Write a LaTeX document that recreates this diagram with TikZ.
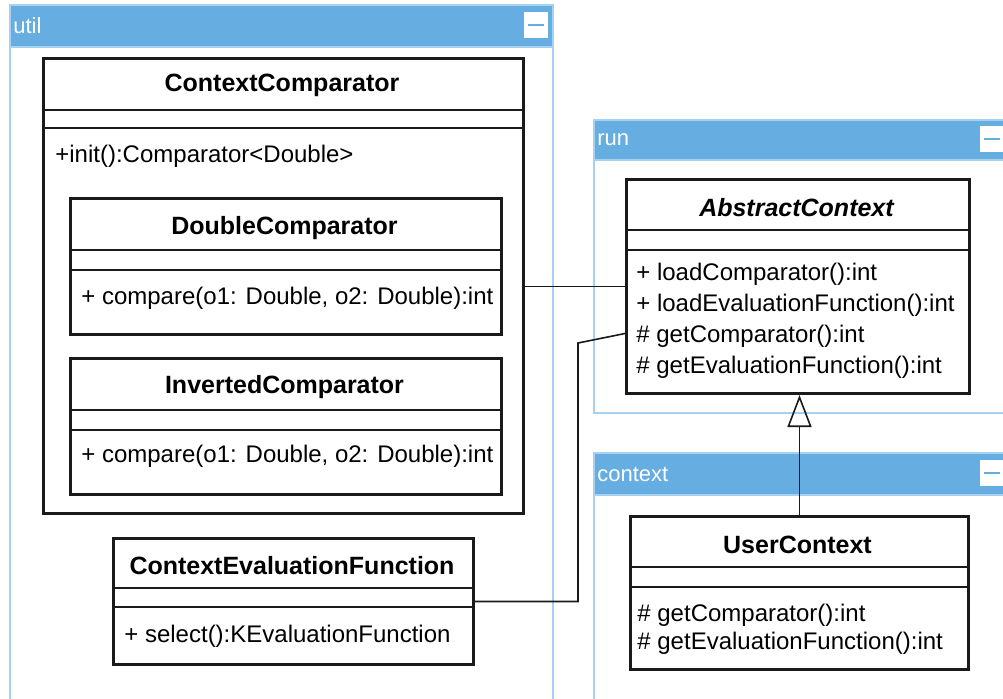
\documentclass[tikz,border=0pt]{standalone}
\usepackage{fontspec}
\setmainfont{Liberation Sans}
\usetikzlibrary{arrows.meta, positioning}

\definecolor{pkgblue}{HTML}{66ADE1}
\definecolor{pkgline}{HTML}{A6D1F1}
\definecolor{umlline}{HTML}{1A1A1A}

\begin{document}
\begin{tikzpicture}[
    x=0.5pt, y=-0.5pt,
    pkg/.style={draw=pkgline, line width=1pt, fill=white},
    pkghead/.style={draw=pkgline, line width=1pt, fill=pkgblue},
    pkgname/.style={text=white, anchor=west, inner sep=0pt,
                    font=\fontsize{11}{13}\selectfont},
    minus/.style={fill=white, inner sep=0pt,
                  minimum width=12pt, minimum height=13pt},
    cls/.style={draw=umlline, line width=1.5pt, fill=white,
                inner sep=0pt, anchor=north west},
    sep/.style={draw=umlline, line width=1pt},
    clstitle/.style={inner sep=0pt, font=\bfseries\fontsize{12.5}{15}\selectfont},
    member/.style={anchor=west, inner sep=0pt, font=\fontsize{12}{14}\selectfont},
    link/.style={draw=umlline, line width=0.8pt},
    inherit/.style={link, -{Triangle[open, length=16pt, width=12pt]}}
]
  \clip (0,0) rectangle (1003,698);

  % packages
  \draw[pkg] (10,5) rectangle (553,720);
  \draw[pkghead] (10,5) rectangle (553,47);
  \node[pkgname] (utilname) at (13,26) {util};
  \node[minus] (utilmin) at (536,25) {};

  \draw[pkg] (594,120) rectangle (1010,413);
  \draw[pkghead] (594,120) rectangle (1010,160);
  \node[pkgname] (runname) at (597,140) {run};
  \node[minus] (runmin) at (992,139) {};

  \draw[pkg] (594,453) rectangle (1010,720);
  \draw[pkghead] (594,453) rectangle (1010,495);
  \node[pkgname] (ctxname) at (597,474) {context};
  \node[minus] (ctxmin) at (992,473) {};

  \foreach \m in {utilmin, runmin, ctxmin}
    \draw[pkgblue, line width=1.3pt] ([xshift=2pt]\m.west) -- ([xshift=-2pt]\m.east);

  % util classes
  \node[cls, minimum width=240pt, minimum height=227.5pt] (cc) at (42,57) {};
  \node[clstitle] (cctitle) at (282,85) {ContextComparator};
  \draw[sep] (42,110) -- (522,110);
  \draw[sep] (42,128) -- (522,128);
  \node[member] (ccinit) at (55,156) {+init():Comparator<Double>};

  \node[cls, minimum width=215.5pt, minimum height=68pt] (dc) at (69,197) {};
  \node[clstitle] (dctitle) at (284.5,228) {DoubleComparator};
  \draw[sep] (69,250) -- (500,250);
  \draw[sep] (69,270) -- (500,270);
  \node[member] (dcop) at (81,298) {+ compare(o1: Double, o2: Double):int};

  \node[cls, minimum width=215.5pt, minimum height=68pt] (ic) at (69,357) {};
  \node[clstitle] (ictitle) at (284.5,387) {InvertedComparator};
  \draw[sep] (69,410) -- (500,410);
  \draw[sep] (69,430) -- (500,430);
  \node[member] (icop) at (81,456) {+ compare(o1: Double, o2: Double):int};

  \node[cls, minimum width=180pt, minimum height=63pt] (cef) at (112,537) {};
  \node[clstitle] (ceftitle) at (292,566) {ContextEvaluationFunction};
  \draw[sep] (112,588) -- (472,588);
  \draw[sep] (112,607) -- (472,607);
  \node[member] (cefop) at (124,636) {+ select():KEvaluationFunction};

  % run classes
  \node[cls, minimum width=171.5pt, minimum height=107pt] (ac) at (625,178) {};
  \node[clstitle, font=\bfseries\itshape\fontsize{12.5}{15}\selectfont]
       (actitle) at (796.5,208) {AbstractContext};
  \draw[sep] (625,230) -- (968,230);
  \draw[sep] (625,250) -- (968,250);
  \node[member] (acop1) at (636,274) {+ loadComparator():int};
  \node[member] (acop2) at (636,305) {+ loadEvaluationFunction():int};
  \node[member] (acop3) at (636,336) {\# getComparator():int};
  \node[member] (acop4) at (636,367) {\# getEvaluationFunction():int};

  % context classes
  \node[cls, minimum width=169pt, minimum height=76.5pt] (uc) at (629,515) {};
  \node[clstitle] (uctitle) at (797.5,545) {UserContext};
  \draw[sep] (629,567) -- (967,567);
  \draw[sep] (629,587) -- (967,587);
  \node[member] (ucop1) at (637,615) {\# getComparator():int};
  \node[member] (ucop2) at (637,643) {\# getEvaluationFunction():int};

  % connectors
  \coordinate (bend) at (578,343);
  \draw[link] (cc.east |- ac.west) -- (ac.west);
  \draw[link] (cef.east) -| (bend) -- ([yshift=-23.5pt]ac.west);
  \draw[inherit] (uc.north) -- (uc.north |- ac.south);
\end{tikzpicture}
\end{document}
